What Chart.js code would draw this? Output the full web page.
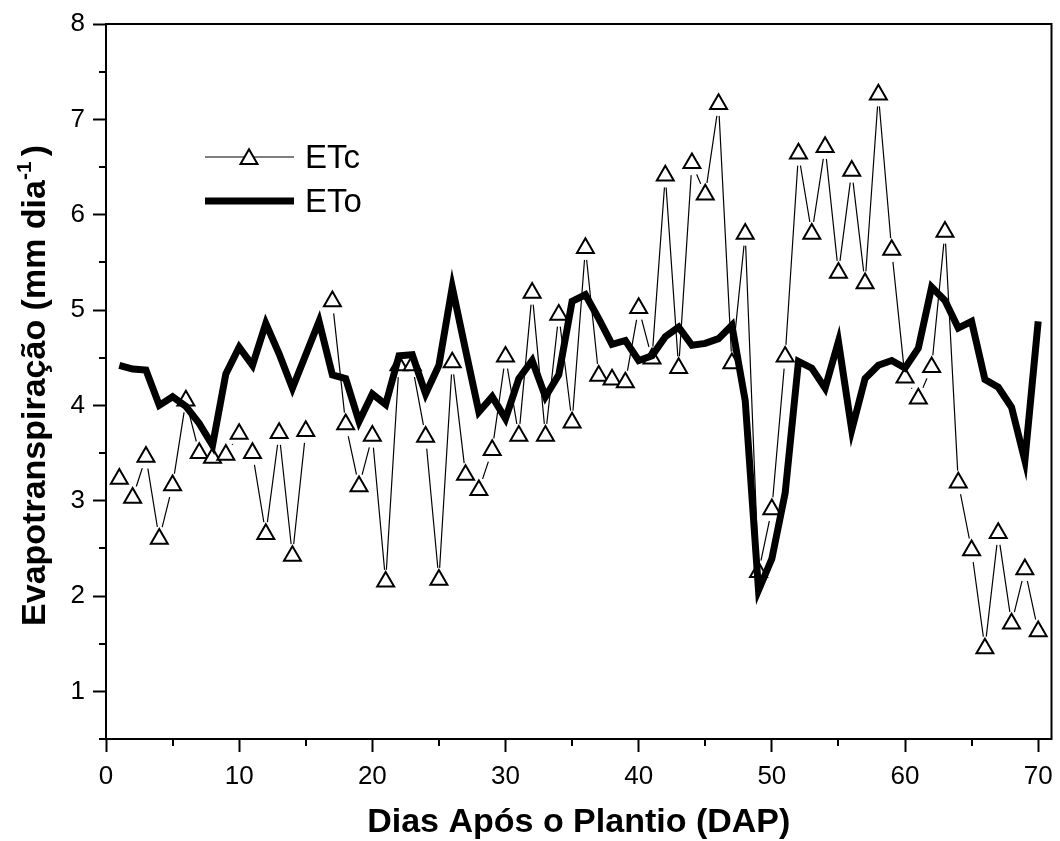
<!DOCTYPE html>
<html>
<head>
<meta charset="utf-8">
<script src="https://cdn.jsdelivr.net/npm/chart.js@4.4.0/dist/chart.umd.min.js"></script>
<style>
  html, body { margin: 0; padding: 0; background: #fff; }
  #wrap { width: 1060px; height: 841px; }
</style>
</head>
<body>
<div id="wrap"><canvas id="c" width="1060" height="841"></canvas></div>
<script>
// ---- data ----
const days = [1,2,3,4,5,6,7,8,9,10,11,12,13,14,15,16,17,18,19,20,
  21,22,23,24,25,26,27,28,29,30,31,32,33,34,35,36,37,38,39,40,
  41,42,43,44,45,46,47,48,49,50,51,52,53,54,55,56,57,58,59,60,
  61,62,63,64,65,66,67,68,69,70];

const etc = [3.23,3.03,3.46,2.60,3.16,4.05,3.50,3.45,3.48,3.70,
  3.50,2.65,3.71,2.42,3.73,null,5.09,3.80,3.15,3.68,
  2.15,4.42,4.42,3.67,2.17,4.45,3.27,3.11,3.53,4.51,
  3.68,5.18,3.68,4.95,3.82,5.65,4.31,4.27,4.24,5.02,
  4.49,6.41,4.39,6.54,6.21,7.16,4.44,5.80,2.25,2.91,
  4.51,6.64,5.80,6.71,5.39,6.46,5.28,7.26,5.63,4.29,
  4.07,4.40,5.82,3.19,2.48,1.45,2.66,1.71,2.28,1.63];

const eto = [4.42,4.38,4.37,4.00,4.09,3.99,3.81,3.58,4.33,4.61,
  4.42,4.86,4.54,4.18,4.53,4.88,4.32,4.28,3.83,4.12,
  4.01,4.52,4.53,4.12,4.42,5.24,4.58,3.93,4.09,3.86,
  4.28,4.47,4.09,4.32,5.09,5.16,4.91,4.64,4.68,4.47,
  4.52,4.72,4.82,4.63,4.65,4.70,4.84,4.05,2.06,2.39,
  3.08,4.46,4.39,4.18,4.67,3.74,4.28,4.42,4.47,4.39,
  4.60,5.24,5.10,4.81,4.88,4.27,4.19,3.98,3.42,4.88];

const xTickValues = [0,10,20,30,40,50,60,70];
const yTickValues = [1,2,3,4,5,6,7,8];
const xMinorValues = [5,15,25,35,45,55,65];
const yMinorValues = [0.5,1.5,2.5,3.5,4.5,5.5,6.5,7.5];

const seriesNames = ['ETc', 'ETo'];
const xTitle = 'Dias Após o Plantio (DAP)';
const yTitleMain = 'Evapotranspiração (mm dia';
const yTitleSup = '-1';
const yTitleEnd = ')';

// ---- build ----
const FONT = "'Liberation Sans', Arial, Helvetica, sans-serif";
const toXY = arr => days.map((d, i) => ({ x: d, y: arr[i] }));

const minorTicks = {
  id: 'minorTicks',
  afterDraw(chart) {
    const ctx = chart.ctx, xs = chart.scales.x, ys = chart.scales.y, a = chart.chartArea;
    ctx.save();
    ctx.strokeStyle = '#000';
    ctx.lineWidth = 2;
    ctx.beginPath();
    xMinorValues.forEach(v => {
      const px = Math.round(xs.getPixelForValue(v));
      ctx.moveTo(px, a.bottom); ctx.lineTo(px, a.bottom + 7);
    });
    yMinorValues.forEach(v => {
      const py = Math.round(ys.getPixelForValue(v));
      ctx.moveTo(a.left, py); ctx.lineTo(a.left - 7, py);
    });
    ctx.stroke();
    // top and right frame
    ctx.beginPath();
    ctx.moveTo(a.left - 1, a.top); ctx.lineTo(a.right, a.top); ctx.lineTo(a.right, a.bottom + 1);
    ctx.stroke();
    ctx.restore();
  }
};

const titles = {
  id: 'titles',
  afterDraw(chart) {
    const ctx = chart.ctx, a = chart.chartArea;
    ctx.save();
    ctx.fillStyle = '#000';
    // x title
    ctx.font = 'bold 34px ' + FONT;
    ctx.textAlign = 'center';
    ctx.textBaseline = 'alphabetic';
    ctx.fillText(xTitle, (a.left + a.right) / 2, 832);
    // y title with superscript
    ctx.translate(45, (a.top + a.bottom) / 2 + 4);
    ctx.rotate(-Math.PI / 2);
    const mainFont = 'bold 34px ' + FONT, supFont = 'bold 21px ' + FONT;
    ctx.font = mainFont; const w1 = ctx.measureText(yTitleMain).width;
    const w3 = ctx.measureText(yTitleEnd).width;
    ctx.font = supFont; const w2 = ctx.measureText(yTitleSup).width;
    const total = w1 + w2 + w3 + 5;
    let x = -total / 2;
    ctx.textAlign = 'left';
    ctx.font = mainFont; ctx.fillText(yTitleMain, x, 0); x += w1;
    ctx.font = supFont; ctx.fillText(yTitleSup, x, -14); x += w2 + 5;
    ctx.font = mainFont; ctx.fillText(yTitleEnd, x, 0);
    ctx.restore();
  }
};

const legendPlugin = {
  id: 'customLegend',
  afterDraw(chart) {
    const ctx = chart.ctx;
    ctx.save();
    // ETc
    ctx.strokeStyle = '#000';
    ctx.lineWidth = 1.2;
    ctx.beginPath(); ctx.moveTo(205, 157); ctx.lineTo(294, 157); ctx.stroke();
    const r = 9.8, cx = 249, cy = 159;
    ctx.beginPath();
    for (let k = 0; k < 3; k++) {
      const ang = k * 2 * Math.PI / 3;
      const px = cx + Math.sin(ang) * r, py = cy - Math.cos(ang) * r;
      if (k === 0) ctx.moveTo(px, py); else ctx.lineTo(px, py);
    }
    ctx.closePath();
    ctx.fillStyle = '#fff'; ctx.fill();
    ctx.lineWidth = 2; ctx.stroke();
    // ETo
    ctx.lineWidth = 7;
    ctx.beginPath(); ctx.moveTo(205, 201); ctx.lineTo(294, 201); ctx.stroke();
    ctx.fillStyle = '#000';
    ctx.font = '33px ' + FONT;
    ctx.textAlign = 'left';
    ctx.textBaseline = 'middle';
    ctx.fillText(seriesNames[0], 305, 159);
    ctx.fillText(seriesNames[1], 305, 203);
    ctx.restore();
  }
};

new Chart(document.getElementById('c'), {
  type: 'line',
  data: {
    datasets: [
      { // ETo thick line (top)
        label: seriesNames[1], data: toXY(eto), order: 0,
        borderColor: '#000', borderWidth: 7, pointRadius: 0,
        fill: false, tension: 0, borderJoinStyle: 'miter'
      },
      { // ETc markers
        label: seriesNames[0], data: toXY(etc), order: 1, showLine: false,
        pointStyle: 'triangle', pointRadius: 9.8, pointBorderWidth: 2,
        pointBackgroundColor: '#fff', pointBorderColor: '#000'
      },
      { // white gap around markers
        label: 'gap', data: toXY(etc), order: 2, showLine: false,
        pointStyle: 'circle', pointRadius: 12, pointBorderWidth: 0,
        pointBackgroundColor: '#fff', pointBorderColor: '#fff'
      },
      { // ETc thin line
        label: seriesNames[0] + ' line', data: toXY(etc), order: 3,
        borderColor: '#000', borderWidth: 1.2, pointRadius: 0,
        fill: false, tension: 0, spanGaps: false
      }
    ]
  },
  options: {
    responsive: false,
    animation: false,
    devicePixelRatio: 1,
    layout: { autoPadding: false, padding: { top: 24, right: 8.5, left: 0, bottom: 0 } },
    plugins: { legend: { display: false }, tooltip: { enabled: false } },
    events: [],
    scales: {
      x: {
        type: 'linear', min: 0, max: 71,
        afterBuildTicks: s => { s.ticks = xTickValues.map(v => ({ value: v })); },
        afterFit: s => { s.height = 102; s.paddingLeft = 0; s.paddingRight = 0; },
        ticks: { color: '#000', font: { family: FONT, size: 26 }, padding: 9, maxRotation: 0, autoSkip: false },
        grid: { drawOnChartArea: false, drawTicks: true, tickLength: 13, tickWidth: 2, tickColor: '#000' },
        border: { display: true, color: '#000', width: 2 }
      },
      y: {
        type: 'linear', min: 0.5, max: 8,
        afterBuildTicks: s => { s.ticks = yTickValues.map(v => ({ value: v })); },
        afterFit: s => { s.width = 106; s.paddingTop = 0; s.paddingBottom = 0; },
        ticks: { color: '#000', font: { family: FONT, size: 26 }, padding: 8, autoSkip: false },
        grid: { drawOnChartArea: false, drawTicks: true, tickLength: 13, tickWidth: 2, tickColor: '#000' },
        border: { display: true, color: '#000', width: 2 }
      }
    }
  },
  plugins: [minorTicks, titles, legendPlugin]
});
</script>
</body>
</html>
